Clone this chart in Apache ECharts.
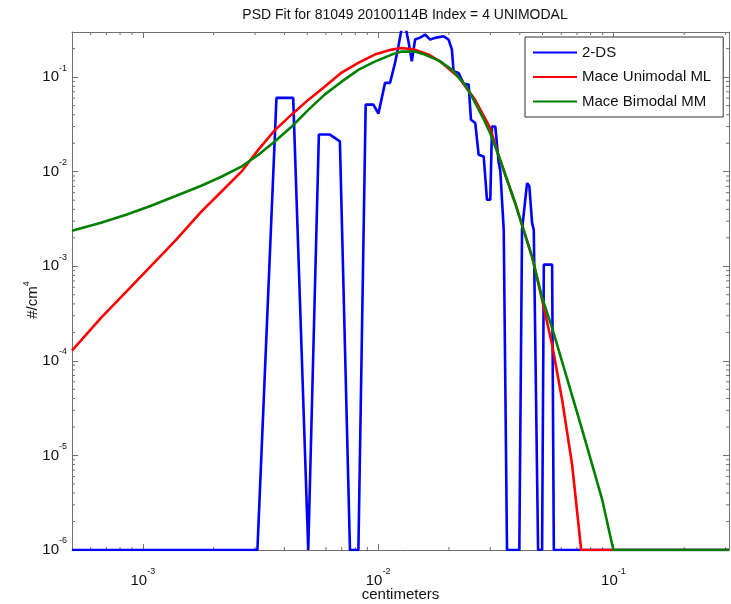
<!DOCTYPE html>
<html><head><meta charset="utf-8">
<script src="https://cdn.jsdelivr.net/npm/echarts@6/dist/echarts.min.js"></script>
<style>html,body{margin:0;padding:0;background:#fff}#c{width:731px;height:604px}</style>
</head><body><div id="c"></div>
<script>
const titleText = 'PSD Fit for 81049 20100114B Index = 4 UNIMODAL';
const xName = 'centimeters';
const yNameRich = '{a|#/cm}{s|4}';
const seriesNames = ['2-DS', 'Mace Unimodal ML', 'Mace Bimodal MM'];

// 2-DS measured PSD (cm, #/cm^4)
const dsX = [5.0e-4, 3.069e-3, 3.698e-3, 4.356e-3, 5.047e-3, 5.601e-3, 6.239e-3, 6.88e-3, 7.592e-3, 8.245e-3,
  8.855e-3, 9.55e-3, 1.003e-2, 1.070e-2, 1.124e-2, 1.180e-2, 1.220e-2, 1.260e-2, 1.311e-2, 1.346e-2,
  1.391e-2, 1.436e-2, 1.508e-2, 1.584e-2, 1.664e-2, 1.747e-2, 1.898e-2, 1.993e-2, 2.059e-2, 2.093e-2,
  2.198e-2, 2.309e-2, 2.426e-2, 2.481e-2, 2.588e-2, 2.675e-2, 2.810e-2, 2.902e-2, 2.998e-2, 3.048e-2,
  3.148e-2, 3.255e-2, 3.307e-2, 3.362e-2, 3.419e-2, 3.531e-2, 3.983e-2, 4.090e-2, 4.296e-2, 4.394e-2,
  4.512e-2, 4.588e-2, 4.786e-2, 4.977e-2, 5.062e-2, 5.490e-2, 5.583e-2, 0.31];
const dsY = [1e-6, 1e-6, 0.0603, 0.0603, 1e-6, 0.0247, 0.0247, 0.0209, 1e-6, 1e-6,
  0.0512, 0.0512, 0.0411, 0.0869, 0.0869, 0.1413, 0.2118, 0.33, 0.33, 0.2377,
  0.1469, 0.2495, 0.2618, 0.282, 0.2495, 0.260, 0.2704, 0.2495, 0.1954, 0.1151,
  0.1107, 0.0853, 0.0834, 0.0355, 0.0327, 0.0151, 0.0145, 5.06e-3, 5.06e-3, 0.0301,
  0.0301, 0.0124, 0.0102, 0.0102, 2.43e-3, 1e-6, 1e-6, 2.43e-3, 7.59e-3, 7.0e-3,
  2.88e-3, 2.43e-3, 1e-6, 1e-6, 1.04e-3, 1.04e-3, 1e-6, 1e-6];

// Mace unimodal ML fit
const uniX = [5.0e-4, 6.64e-4, 8.49e-4, 1.084e-3, 1.387e-3, 1.772e-3, 2.156e-3, 2.624e-3, 3.099e-3, 3.626e-3,
  4.284e-3, 5.062e-3, 5.923e-3, 6.996e-3, 8.27e-3, 9.67e-3, 1.143e-2, 1.260e-2, 1.432e-2, 1.643e-2,
  1.866e-2, 2.205e-2, 2.580e-2, 2.989e-2, 3.265e-2, 3.819e-2, 4.512e-2, 4.977e-2, 5.490e-2, 6.057e-2,
  6.679e-2, 7.297e-2, 0.31];
const uniY = [1.28e-4, 2.85e-4, 5.37e-4, 1.01e-3, 1.91e-3, 3.78e-3, 6.14e-3, 1.00e-2, 1.71e-2, 2.72e-2,
  4.01e-2, 5.78e-2, 7.93e-2, 0.1117, 0.1422, 0.1730, 0.1954, 0.2028, 0.1954, 0.1730,
  0.1422, 0.0989, 0.0578, 0.0292, 0.0144, 4.70e-3, 1.26e-3, 4.43e-4, 1.48e-4, 3.86e-5,
  7.92e-6, 1e-6, 1e-6];

// Mace bimodal MM fit
const biX = [5.0e-4, 6.64e-4, 8.49e-4, 1.084e-3, 1.387e-3, 1.772e-3, 2.156e-3, 2.624e-3, 3.099e-3, 3.626e-3,
  4.284e-3, 5.062e-3, 5.923e-3, 6.996e-3, 8.27e-3, 9.67e-3, 1.143e-2, 1.260e-2, 1.432e-2, 1.579e-2,
  1.812e-2, 2.059e-2, 2.339e-2, 2.505e-2, 2.763e-2, 2.989e-2, 3.265e-2, 3.819e-2, 4.512e-2, 4.977e-2,
  5.490e-2, 6.057e-2, 7.370e-2, 8.968e-2, 0.1, 0.31];
const biY = [2.38e-3, 2.88e-3, 3.51e-3, 4.37e-3, 5.57e-3, 7.11e-3, 8.85e-3, 1.13e-2, 1.51e-2, 2.07e-2,
  2.99e-2, 4.53e-2, 6.53e-2, 8.95e-2, 0.1199, 0.1459, 0.1730, 0.1862, 0.1862, 0.1730,
  0.1496, 0.1199, 0.0834, 0.0622, 0.039, 0.0259, 0.0144, 4.70e-3, 1.26e-3, 4.65e-4,
  2.23e-4, 9.75e-5, 1.86e-5, 3.38e-6, 1e-6, 1e-6];

const xMin = 5e-4, xMax = 0.31, yMin = 1e-6, yMax = 0.3;
const minorMult = [2, 3, 4, 5, 6, 7, 8, 9];
const xDecades = [1e-4, 1e-3, 1e-2, 1e-1];
const yDecades = [1e-6, 1e-5, 1e-4, 1e-3, 1e-2, 1e-1];

const minorXTicks = [];
xDecades.forEach(d => minorMult.forEach(m => { const v = d * m; if (v > xMin && v < xMax) minorXTicks.push(v); }));
const minorYTicks = [];
yDecades.forEach(d => minorMult.forEach(m => { const v = d * m; if (v > yMin && v < yMax) minorYTicks.push(v); }));

const frameColor = '#707070';
const FONT = '"Liberation Sans", Arial, Helvetica, sans-serif';

function powLabel(v) {
  const e = Math.log10(v);
  const r = Math.round(e);
  if (Math.abs(e - r) > 1e-6) return '';
  return '{b|10}{s|' + r + '}';
}
const labelRich = {
  b: { fontSize: 15, fontFamily: FONT, color: '#111' },
  s: { fontSize: 9, fontFamily: FONT, color: '#111', padding: [0, 0, 18, 0] }
};

const pair = (xs, ys) => xs.map((x, i) => [x, ys[i]]);

const chart = echarts.init(document.getElementById('c'), null, { renderer: 'canvas' });
const baseAxis = {
  type: 'log', logBase: 10,
  axisLine: { show: true, lineStyle: { color: frameColor, width: 1 } },
  axisTick: { show: true, inside: true, length: 6, lineStyle: { color: frameColor } },
  splitLine: { show: false },
  minorTick: { show: false }
};
chart.setOption({
  animation: false,
  backgroundColor: '#fff',
  title: {
    text: titleText, left: 400, top: 3, textAlign: 'center',
    textStyle: { fontSize: 14, fontWeight: 'normal', color: '#111', fontFamily: FONT }
  },
  graphic: [{
    type: 'text', x: 33, y: 300, rotation: Math.PI / 2,
    style: {
      text: yNameRich, align: 'center', verticalAlign: 'middle',
      rich: { a: { fontSize: 15, fontFamily: FONT, fill: '#111', color: '#111' },
              s: { fontSize: 9, fontFamily: FONT, fill: '#111', color: '#111', padding: [0, 0, 12, 0] } }
    }
  }],
  grid: { left: 72, right: 2, top: 32, bottom: 54, containLabel: false, outerBoundsMode: 'none' },
  legend: {
    data: seriesNames, orient: 'vertical', left: 525, top: 37,
    padding: [8, 12, 8, 8], itemGap: 9.5, itemWidth: 44, itemHeight: 14,
    borderColor: '#333', borderWidth: 1, backgroundColor: '#fff',
    textStyle: { fontSize: 15, color: '#111', fontFamily: FONT },
    icon: 'path://M0,6H44V8H0Z'
  },
  xAxis: [
    Object.assign({}, baseAxis, {
      min: xMin, max: xMax, position: 'bottom',
      name: xName, nameLocation: 'middle', nameGap: 37, nameMoveOverlap: false,
      nameTextStyle: { fontSize: 15, color: '#111', fontFamily: FONT },
      axisLabel: { show: true, margin: 17, formatter: powLabel, rich: labelRich, showMinLabel: false, showMaxLabel: false }
    }),
    Object.assign({}, baseAxis, {
      min: xMin, max: xMax, position: 'top', axisLabel: { show: false }
    })
  ],
  yAxis: [
    Object.assign({}, baseAxis, {
      min: yMin, max: yMax, position: 'left',
      axisLabel: { show: true, margin: 5, formatter: powLabel, rich: labelRich, showMaxLabel: false }
    }),
    Object.assign({}, baseAxis, {
      min: yMin, max: yMax, position: 'right', axisLabel: { show: false }
    })
  ],
  series: [
    {
      name: seriesNames[0], type: 'line', data: pair(dsX, dsY), symbol: 'none', showSymbol: false,
      lineStyle: { color: '#0000ff', width: 2.6 }, itemStyle: { color: '#0000ff' }, z: 3, clip: true
    },
    {
      name: seriesNames[1], type: 'line', data: pair(uniX, uniY), symbol: 'none', showSymbol: false,
      lineStyle: { color: '#ff0000', width: 2.6 }, itemStyle: { color: '#ff0000' }, z: 4, clip: true
    },
    {
      name: seriesNames[2], type: 'line', data: pair(biX, biY), symbol: 'none', showSymbol: false,
      lineStyle: { color: '#008000', width: 2.6 }, itemStyle: { color: '#008000' }, z: 5, clip: true
    },
    {
      type: 'custom', xAxisIndex: 0, yAxisIndex: 0, silent: true, z: 2,
      data: minorXTicks.map(v => [v, yMin]),
      renderItem: (params, api) => {
        const x = api.value(0);
        const b = api.coord([x, yMin]);
        const t = api.coord([x, yMax]);
        return { type: 'group', children: [
          { type: 'line', shape: { x1: b[0], y1: b[1], x2: b[0], y2: b[1] - 3 }, style: { stroke: frameColor, lineWidth: 1 } },
          { type: 'line', shape: { x1: t[0], y1: t[1], x2: t[0], y2: t[1] + 3 }, style: { stroke: frameColor, lineWidth: 1 } }
        ] };
      }
    },
    {
      type: 'custom', xAxisIndex: 0, yAxisIndex: 0, silent: true, z: 2,
      data: minorYTicks.map(v => [xMin, v]),
      renderItem: (params, api) => {
        const y = api.value(1);
        const l = api.coord([xMin, y]);
        const r = api.coord([xMax, y]);
        return { type: 'group', children: [
          { type: 'line', shape: { x1: l[0], y1: l[1], x2: l[0] + 3, y2: l[1] }, style: { stroke: frameColor, lineWidth: 1 } },
          { type: 'line', shape: { x1: r[0], y1: r[1], x2: r[0] - 3, y2: r[1] }, style: { stroke: frameColor, lineWidth: 1 } }
        ] };
      }
    }
  ]
});
</script></body></html>
